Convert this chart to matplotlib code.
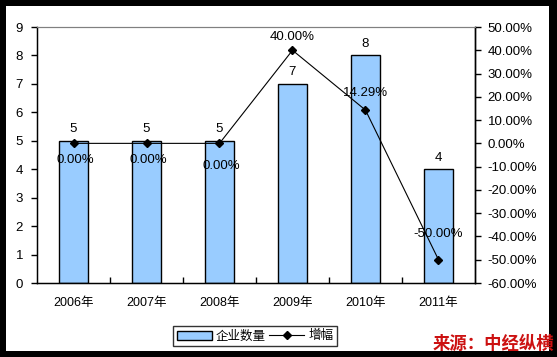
import matplotlib
matplotlib.use("Agg")
import matplotlib.pyplot as plt
from matplotlib.patches import Rectangle
from matplotlib.lines import Line2D
from matplotlib.patches import Patch
import numpy as np

plt.rcParams['font.family'] = ['Liberation Sans', 'Noto Sans CJK SC', 'DejaVu Sans']

categories = ['2006年', '2007年', '2008年', '2009年', '2010年', '2011年']
counts = [5, 5, 5, 7, 8, 4]
growth = [0.0, 0.0, 0.0, 40.0, 14.29, -50.0]
left_ticks = list(range(0, 10))
right_ticks = list(range(-60, 51, 10))

W, H = 557, 357
fig = plt.figure(figsize=(W / 100, H / 100), dpi=100, facecolor='black')
fig.patches.append(Rectangle((6 / W, 6 / H), (549 - 6) / W, (351 - 6) / H,
                             transform=fig.transFigure, facecolor='white',
                             edgecolor='none', zorder=-10))

l, r, t, b = 37, 475, 27, 283
ax = fig.add_axes([l / W, 1 - b / H, (r - l) / W, (b - t) / H])
ax.set_facecolor('white')
x = np.arange(len(categories))
ax.bar(x, counts, width=0.4, color='#99ccff', edgecolor='black', linewidth=1, zorder=2)
ax.set_xlim(-0.5, len(categories) - 0.5)
ax.set_ylim(0, 9)
ax.set_yticks(left_ticks)
ax.set_yticklabels([str(v) for v in left_ticks], fontsize=9.5)
ax.set_xticks(x)
ax.set_xticklabels(categories, fontsize=9)
ax.tick_params(axis='x', length=0, pad=10)
ax.set_xticks(np.arange(0.5, len(categories) - 1, 1), minor=True)
ax.tick_params(axis='x', which='minor', direction='in', length=4, width=1)
ax.tick_params(axis='y', direction='out', length=4, width=1, pad=6)
for sp in ['left', 'bottom', 'right']:
    ax.spines[sp].set_linewidth(1)
ax.spines['top'].set_color('#808080')
for xi, v in zip(x, counts):
    ax.text(xi, v + 0.2, str(v), ha='center', va='bottom', fontsize=9.5, zorder=5)

ax2 = ax.twinx()
ax2.plot(x, growth, color='black', linewidth=0.8, marker='D', markersize=4, zorder=3)
ax2.set_ylim(-60, 50)
ax2.set_yticks(right_ticks)
ax2.set_yticklabels([f'{v:.2f}%' for v in right_ticks], fontsize=9.5)
ax2.tick_params(axis='y', direction='out', length=4, width=1, pad=5)
ax2.spines['top'].set_color('#808080')
ax2.spines['right'].set_linewidth(1)
offsets = [(0.02, -8, 'top'), (0.02, -8, 'top'), (0.02, -12, 'top'),
           (0, 5, 'bottom'), (0, 8, 'bottom'), (0, 14, 'bottom')]
for xi, g, (dx, dy, va) in zip(x, growth, offsets):
    ax2.annotate(f'{g:.2f}%', (xi + dx, g), xytext=(0, dy), textcoords='offset points',
                 ha='center', va=va, fontsize=9.5, zorder=5)

handles = [Patch(facecolor='#99ccff', edgecolor='black', label='企业数量'),
           Line2D([0], [0], color='black', marker='D', markersize=4, linewidth=0.8, label='增幅')]
leg = fig.legend(handles=handles, loc='center', bbox_to_anchor=(255 / W, 1 - 336 / H),
                 ncol=2, frameon=True, fancybox=False, fontsize=9,
                 handlelength=2.8, handleheight=0.7, columnspacing=0.3, handletextpad=0.3,
                 borderpad=0.3)
leg.get_frame().set_edgecolor('black')
leg.get_frame().set_linewidth(1)
for tx in leg.get_texts():
    tx.set_family(['Noto Sans CJK SC', 'DejaVu Sans'])

fig.text(554 / W, 1 - 344 / H, '来源：中经纵横', ha='right', va='center', color='#cc1111',
         fontsize=12.5, fontweight='bold', style='italic', family=['Noto Sans CJK SC', 'DejaVu Sans'])

fig.savefig('out.png', dpi=100, facecolor='black')
